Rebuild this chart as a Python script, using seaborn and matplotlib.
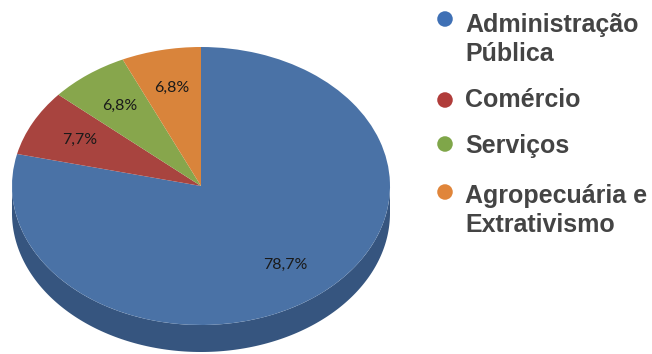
import numpy as np
import matplotlib
matplotlib.use("Agg")
import matplotlib.pyplot as plt
import seaborn as sns

# Distribution by sector (percent)
categories = ["Administração\nPública", "Comércio", "Serviços", "Agropecuária e\nExtrativismo"]
shares = [78.7, 7.7, 6.8, 6.8]
slice_colors = ["#4a72a6", "#a8443f", "#87a64c", "#d9843b"]
marker_colors = ["#3f70b5", "#b03c3a", "#7fa649", "#e0853a"]
side_color = "#36557f"

sns.set_theme(style="white")
plt.rcParams["font.family"] = ["Lato", "DejaVu Sans"]

W, H = 652, 354
fig = plt.figure(figsize=(W / 100, H / 100), dpi=100)
fig.patch.set_facecolor("white")

# pie body: top face spans x 12..390 px, y 47..325 px, wall 27 px deep
depth = 27 / 139
ax = fig.add_axes([12 / W, 1 - 352 / H, 378 / W, 305 / H])

t = np.linspace(np.pi, 2 * np.pi, 200)
wall_x = np.concatenate([np.cos(t), np.cos(t[::-1])])
wall_y = np.concatenate([np.sin(t), np.sin(t[::-1]) - depth])
ax.fill(wall_x, wall_y, color=side_color, lw=0, zorder=0)

wedges, _, autotexts = ax.pie(
    shares,
    colors=slice_colors,
    startangle=90,
    counterclock=False,
    autopct=lambda p: f"{p:.1f}%".replace(".", ","),
    pctdistance=0.72,
    wedgeprops=dict(linewidth=0),
    textprops=dict(fontsize=11.5, color="#1a1a1a"),
)
for w in wedges:
    w.set_zorder(1)
for txt in autotexts:
    txt.set_zorder(2)

ax.set_aspect("auto")
ax.set_xlim(-1, 1)
ax.set_ylim(-1 - depth, 1)
ax.axis("off")

# legend drawn in pixel space
lax = fig.add_axes([0, 0, 1, 1])
lax.set_xlim(0, W)
lax.set_ylim(H, 0)
lax.axis("off")
marker_y = [19, 100, 144, 192]
text_y = [61, 107, 153, 232]   # baseline of each entry's last line
for label, col, my, ty in zip(categories, marker_colors, marker_y, text_y):
    lax.scatter([445], [my], s=125, color=col, edgecolor="none")
    lax.text(465, ty, label, fontsize=18, fontweight="bold", color="#444444",
             va="baseline", ha="left", family=["Liberation Sans", "DejaVu Sans"],
             linespacing=1.28)

fig.savefig("out.png", dpi=100, facecolor="white")
